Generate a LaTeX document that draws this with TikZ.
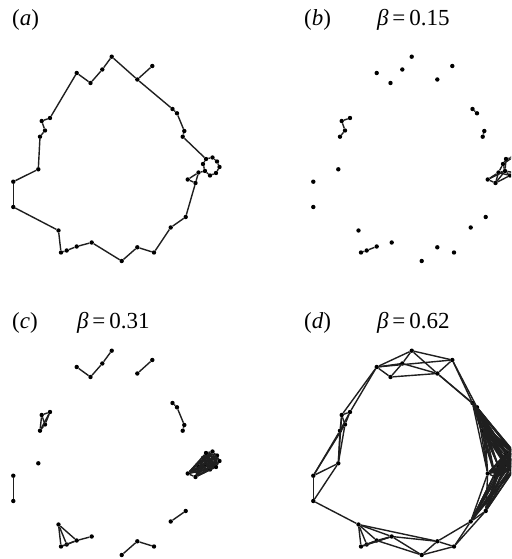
\documentclass[tikz,border=0pt]{standalone}
\usepackage{fontspec}
\setmainfont{Liberation Serif}
\begin{document}
\begin{tikzpicture}[x=1pt,y=-1pt,
  dot/.style={circle,fill=black,inner sep=0pt,minimum size=4.4pt},
  edge/.style={line width=1.4pt,black!88},
  lbl/.style={anchor=base west,inner sep=0pt,font=\fontsize{23}{27}\selectfont}]
\clip (0,0) rectangle (511,559);
\fill[white] (0,0) rectangle (511,559);
\def\nodelist{1/111.7/56.7, 2/137.3/79.5, 3/152.3/66, 4/172.5/109, 5/177/113.3,
  6/184.3/131, 7/182.7/136.7, 8/206/159, 9/212.5/157.5, 10/217/161.5,
  11/219.5/167, 12/216/173, 13/210/175.5, 14/205/171, 15/203/164,
  16/198.5/172.5, 17/187.7/179.5, 18/195.5/183, 19/185.7/217, 20/170.7/227.5,
  21/154/252.5, 22/137.3/247.3, 23/121.7/261, 24/91.7/242.5, 25/76.7/246.5,
  26/66.7/250.5, 27/61/252.5, 28/58.5/230.5, 29/13.3/207, 30/13.3/181.7,
  31/38.3/169.3, 32/40/136.7, 33/45/130.5, 34/41.7/121, 35/50/118,
  36/76.7/73, 37/90.5/83, 38/102.3/69.5}
\foreach \p/\dx/\dy in {a/0/0, b/300/0, c/0/294, d/300/294}{
  \begin{scope}[shift={(\dx,\dy)}]
    \foreach \i/\x/\y in \nodelist {\node[dot] (\p\i) at (\x,\y) {};}
  \end{scope}}
% panel (a)
\foreach \u/\v in {1/2,2/3,2/4,4/5,5/6,6/7,7/8,8/9,9/10,10/11,11/12,12/13,13/14,14/15,15/8,
  14/16,16/17,17/18,16/18,18/19,19/20,20/21,21/22,22/23,23/24,24/25,25/26,26/27,27/28,
  28/29,29/30,30/31,31/32,32/33,33/34,34/35,35/36,36/37,37/38,38/1}
  \draw[edge] (a\u) -- (a\v);
% panel (b)
\foreach \u/\v in {4/5,6/7,32/33,33/34,34/35,25/26,26/27,8/9,9/10,10/11,11/12,12/13,13/14,
  14/15,15/8,14/16,15/16,16/17,17/18,16/18,13/18,14/18,12/14,8/14,9/15,10/12,13/16,17/14}
  \draw[edge] (b\u) -- (b\v);
% panel (c)
\foreach \u/\v in {36/37,37/38,38/1,2/3,4/5,5/6,6/7,19/20,21/22,22/23,24/25,25/26,26/27,
  27/28,28/26,28/25,27/25,29/30,35/34,34/33,33/32,35/32,34/32,35/33}
  \draw[edge] (c\u) -- (c\v);
\foreach \u in {8,...,18}{\foreach \v in {8,...,18}{\ifnum\u<\v \draw[edge] (c\u) -- (c\v);\fi}}
% panel (d)
\foreach \u/\v in {36/1,36/37,36/3,36/38,37/38,38/1,37/2,1/3,1/2,38/2,3/2,
  2/4,2/5,3/4,3/5,4/5,4/6,4/7,5/6,5/7,6/7,
  19/20,19/21,20/21,20/22,21/22,21/23,22/23,22/24,23/24,28/22,23/25,24/25,24/26,24/27,
  24/28,25/28,26/28,27/28,25/26,26/27,25/27,
  28/29,29/30,29/31,30/31,30/32,30/33,31/32,31/33,31/34,32/33,32/34,33/34,33/35,34/35,
  32/35,35/36,34/36}
  \draw[edge] (d\u) -- (d\v);
\foreach \u in {4,...,7,19,20}{\foreach \v in {8,...,18}{\draw[edge] (d\u) -- (d\v);}}
\foreach \u in {8,...,18}{\foreach \v in {8,...,18}{\ifnum\u<\v \draw[edge] (d\u) -- (d\v);\fi}}
% labels
\node[lbl] (la) at (12,26) {(\textit{a})};
\node[lbl] (lb) at (304,26) {(\textit{b})};
\node[lbl] (betab) at (377,26) {\textit{β}\,=\,0.15};
\node[lbl] (lc) at (12,328) {(\textit{c})};
\node[lbl] (betac) at (77,328) {\textit{β}\,=\,0.31};
\node[lbl] (ld) at (304,328) {(\textit{d})};
\node[lbl] (betad) at (377,328) {\textit{β}\,=\,0.62};
\end{tikzpicture}
\end{document}
